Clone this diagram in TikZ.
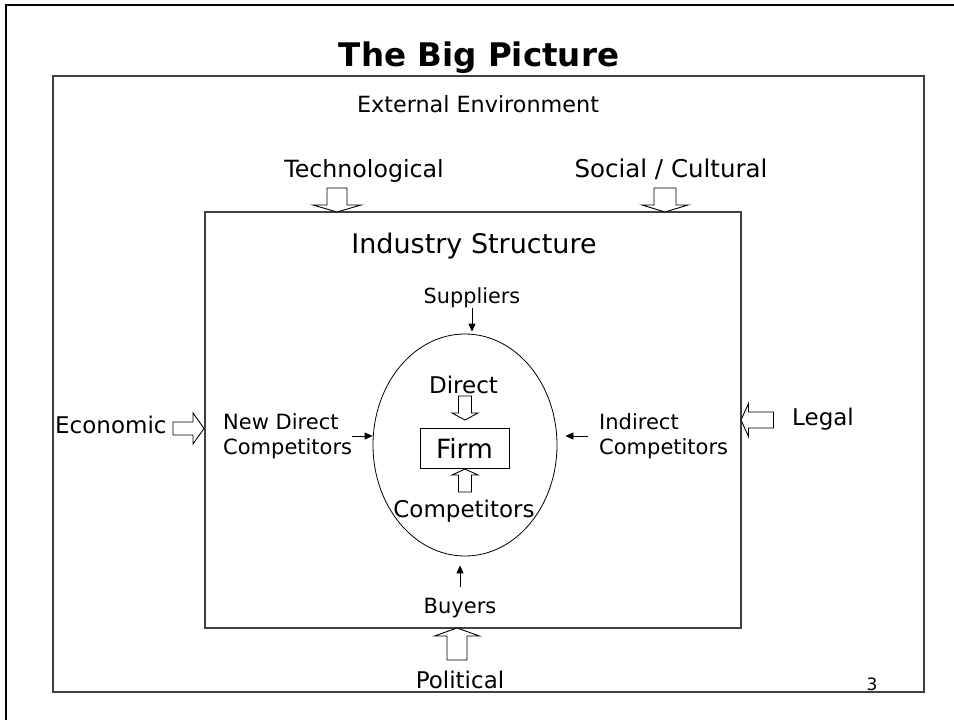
\documentclass[tikz,border=0pt]{standalone}
\usepackage{fontspec}
\setmainfont{DejaVu Sans}
\usetikzlibrary{arrows.meta,shapes.geometric}

% hollow block arrow, tip at the origin pointing along +x
% #1 half shaft width, #2 shaft length, #3 half head width, #4 head length
\tikzset{
  pics/fat/.style n args={4}{code={
    \draw[fat line] (0,0) -- (-#4,#3) -- (-#4,#1) -- (-#4-#2,#1)
      -- (-#4-#2,-#1) -- (-#4,-#1) -- (-#4,-#3) -- cycle;
  }},
}

\begin{document}
\begin{tikzpicture}[
    x=1pt, y=-1pt,
    every node/.style={inner sep=0pt},
    lbl/.style={font=\fontsize{23}{27}\selectfont},
    sml/.style={font=\fontsize{21}{24.5}\selectfont, align=left},
    frame/.style={draw=black!75, line width=1.3pt, minimum width=#1},
    fat line/.style={draw=black, line width=0.9pt, fill=white, line join=miter},
    ar/.style={-{Triangle[length=8pt,width=7pt]}, line width=0.8pt},
  ]
  \useasboundingbox (0,0) rectangle (954,720);

  % slide edge
  \draw[line width=2.5pt] (6,720) -- (6,5) -- (954,5);

  \node[frame=871pt, minimum height=616pt] (env) at (488.5,384) {};
  \node[frame=536pt, minimum height=416pt] (ind) at (473,420) {};

  \node[anchor=base, font=\bfseries\fontsize{32.5}{38}\selectfont] (title) at (479,66) {The Big Picture};
  \node[anchor=base, font=\fontsize{22.3}{27}\selectfont] (ext) at (478,112) {External Environment};
  \node[anchor=base, font=\fontsize{23.7}{28}\selectfont] (tech) at (364,177) {Technological};
  \node[anchor=base, font=\fontsize{24.5}{28}\selectfont] (soc) at (671,177) {Social / Cultural};
  \node[anchor=base, font=\fontsize{27}{32}\selectfont] (indname) at (474,253) {Industry Structure};
  \node[lbl, anchor=base west] (econ) at (55,433) {Economic};
  \node[lbl, anchor=base west] (legal) at (792,425) {Legal};
  \node[lbl, anchor=base] (pol) at (460,688) {Political};
  \node[anchor=base, font=\fontsize{17}{20}\selectfont] (page) at (872,690) {3};

  \node[sml, anchor=base, font=\fontsize{20.8}{24}\selectfont] (sup) at (472,303) {Suppliers};
  \node[sml, anchor=base] (buy) at (460,613) {Buyers};
  \node[sml, anchor=west] (newd) at (223,436) {New Direct\\Competitors};
  \node[sml, anchor=west] (indir) at (599,436) {Indirect\\Competitors};

  \node[ellipse, draw, line width=0.8pt, minimum width=184pt, minimum height=222pt] (zone) at (465,445) {};
  \node[draw, line width=0.9pt, minimum width=89pt, minimum height=40pt,
        font=\fontsize{26.5}{30}\selectfont] (firm) at (464.5,448) {Firm};
  \node[lbl, anchor=base] (dir) at (463.5,393) {Direct};
  \node[lbl, anchor=base] (comp) at (464,517) {Competitors};

  % forces on the firm
  \draw[ar, shorten >=2pt] (sup.south) -- (sup.south |- zone.north);
  \draw[ar, shorten <=10pt, shorten >=9pt] (buy.north) -- (buy.north |- zone.south);
  \draw[ar] (newd.east) -- (newd.east -| zone.west);
  \draw[ar, shorten <=11pt, shorten >=8pt] (indir.west) -- (indir.west -| zone.east);

  % block arrows
  \pic[rotate=-90] at (337,212) {fat={10}{17}{24}{7}};
  \pic[rotate=-90] at (665,212) {fat={11}{17}{23}{7}};
  \pic at (204,428.5) {fat={6.5}{20}{15.5}{11}};
  \pic[rotate=180] at (741,420) {fat={8}{25}{16.5}{7.5}};
  \pic[rotate=90] at (457,628) {fat={10}{24}{22.5}{8}};
  \pic[rotate=-90] at (465,420) {fat={6.5}{17}{13}{7}};
  \pic[rotate=90] at (465,469) {fat={6.5}{17}{13}{6}};
\end{tikzpicture}
\end{document}
